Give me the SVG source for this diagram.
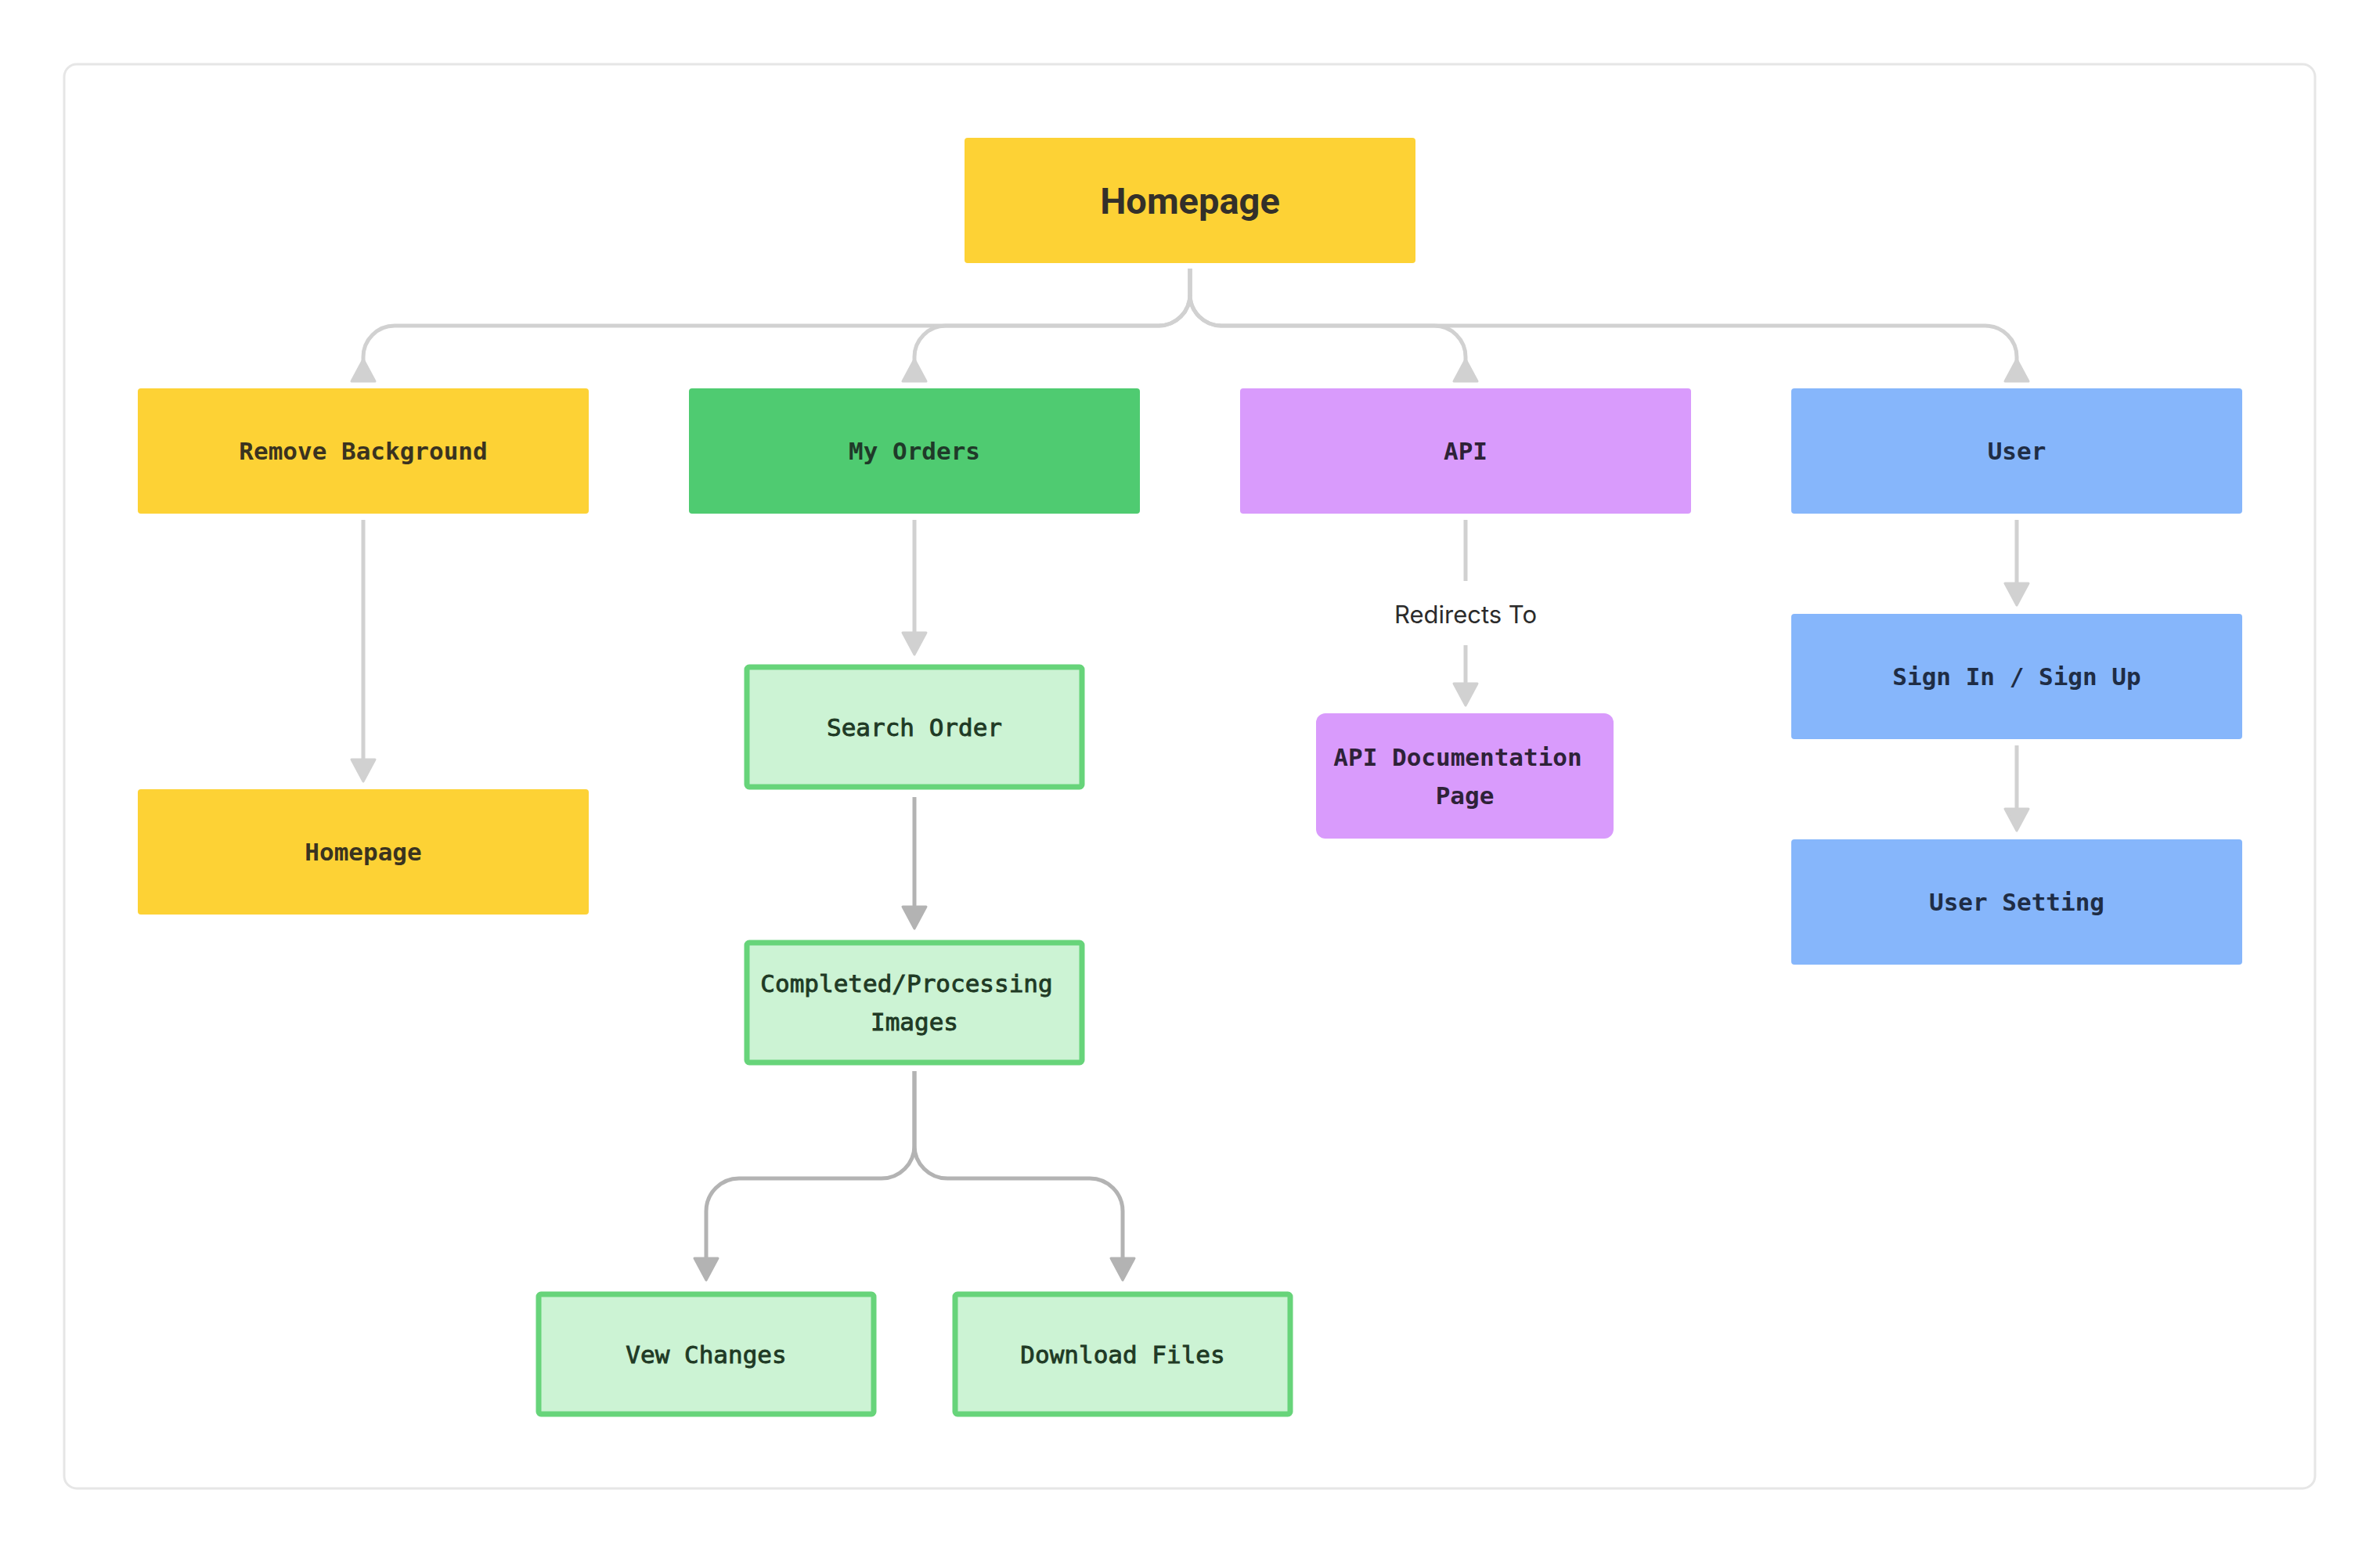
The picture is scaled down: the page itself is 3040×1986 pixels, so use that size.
<svg xmlns="http://www.w3.org/2000/svg" width="3040" height="1986" viewBox="0 0 3040 1986">
<style>
.lbl{font-family:"DejaVu Sans Mono","Liberation Mono",monospace;font-size:31px;font-weight:bold;text-anchor:middle}
.med{font-weight:normal;stroke-width:0.9}
.ttl{font-family:Roboto,"Liberation Sans",sans-serif;font-size:47px;font-weight:bold;text-anchor:middle;fill:#33302a}
.edge{font-family:Inter,"Liberation Sans",sans-serif;font-size:31px;text-anchor:middle;fill:#2b2b2b}
.c1{fill:none;stroke:#d1d1d1;stroke-width:5}
.c2{fill:none;stroke:#b3b3b3;stroke-width:5}
.yel{fill:#fdd235}
.grn{fill:#4fcb71}
.pur{fill:#d99bfc}
.blu{fill:#86b6fb}
.lg{fill:#ccf3d4;stroke:#67d47a;stroke-width:7}
.ty{fill:#3a3320}
.tg{fill:#1f3a29}
.tl{fill:#1f3a25;stroke:#1f3a25}
.tp{fill:#2e2238}
.tb{fill:#1f2d45}
</style>
<defs>
<marker id="aDL" markerUnits="userSpaceOnUse" viewBox="-3 -18 34 36" markerWidth="34" markerHeight="36" refX="0" refY="0" orient="auto">
<path d="M0,-15 L28,0 L0,15 z" fill="#d1d1d1" stroke="#d1d1d1" stroke-width="3" stroke-linejoin="round"/>
</marker>
<marker id="aDD" markerUnits="userSpaceOnUse" viewBox="-3 -18 34 36" markerWidth="34" markerHeight="36" refX="0" refY="0" orient="auto">
<path d="M0,-15 L28,0 L0,15 z" fill="#b3b3b3" stroke="#b3b3b3" stroke-width="3" stroke-linejoin="round"/>
</marker>
<marker id="aUp" markerUnits="userSpaceOnUse" viewBox="-31 -18 34 36" markerWidth="34" markerHeight="36" refX="0" refY="0" orient="auto">
<path d="M0,-15 L-28,0 L0,15 z" fill="#d1d1d1" stroke="#d1d1d1" stroke-width="3" stroke-linejoin="round"/>
</marker>
</defs>
<rect x="0" y="0" width="3040" height="1986" fill="#ffffff"/>
<rect x="82" y="82" width="2875" height="1819" rx="16" fill="#ffffff" stroke="#e6e6e6" stroke-width="3"/>

<g id="connectors">
<path class="c1" d="M1520,343 V376 A40 40 0 0 1 1480,416 H504 A40 40 0 0 0 464,456 V487" marker-end="url(#aUp)"/>
<path class="c1" d="M1520,343 V376 A40 40 0 0 1 1480,416 H1208 A40 40 0 0 0 1168,456 V487" marker-end="url(#aUp)"/>
<path class="c1" d="M1520,343 V376 A40 40 0 0 0 1560,416 H1832 A40 40 0 0 1 1872,456 V487" marker-end="url(#aUp)"/>
<path class="c1" d="M1520,343 V376 A40 40 0 0 0 1560,416 H2536 A40 40 0 0 1 2576,456 V487" marker-end="url(#aUp)"/>
<path class="c1" d="M464,664 V970" marker-end="url(#aDL)"/>
<path class="c1" d="M1168,664 V808" marker-end="url(#aDL)"/>
<path class="c2" d="M1168,1018 V1158" marker-end="url(#aDD)"/>
<path class="c1" d="M1872,664 V742"/>
<text class="edge" x="1872" y="796">Redirects To</text>
<path class="c1" d="M1872,824 V873" marker-end="url(#aDL)"/>
<path class="c1" d="M2576,664 V745" marker-end="url(#aDL)"/>
<path class="c1" d="M2576,952 V1033" marker-end="url(#aDL)"/>
<path class="c2" d="M1168,1368 V1463 A42 42 0 0 1 1126,1505 H944 A42 42 0 0 0 902,1547 V1607" marker-end="url(#aDD)"/>
<path class="c2" d="M1168,1368 V1463 A42 42 0 0 0 1210,1505 H1392 A42 42 0 0 1 1434,1547 V1607" marker-end="url(#aDD)"/>
</g>

<g id="node-homepage-root">
<rect class="yel" x="1232" y="176" width="576" height="160" rx="4"/>
<text class="ttl" x="1520" y="273">Homepage</text>
</g>
<g id="node-remove-background">
<rect class="yel" x="176" y="496" width="576" height="160" rx="4"/>
<text class="lbl ty" x="464" y="587">Remove Background</text>
</g>
<g id="node-my-orders">
<rect class="grn" x="880" y="496" width="576" height="160" rx="4"/>
<text class="lbl tg" x="1168" y="587">My Orders</text>
</g>
<g id="node-api">
<rect class="pur" x="1584" y="496" width="576" height="160" rx="4"/>
<text class="lbl tp" x="1872" y="587">API</text>
</g>
<g id="node-user">
<rect class="blu" x="2288" y="496" width="576" height="160" rx="4"/>
<text class="lbl tb" x="2576" y="587">User</text>
</g>
<g id="node-homepage">
<rect class="yel" x="176" y="1008" width="576" height="160" rx="4"/>
<text class="lbl ty" x="464" y="1099">Homepage</text>
</g>
<g id="node-search-order">
<rect class="lg" x="954" y="852" width="428" height="153" rx="3"/>
<text class="lbl med tl" x="1168" y="940">Search Order</text>
</g>
<g id="node-completed">
<rect class="lg" x="954" y="1204" width="428" height="153" rx="3"/>
<text class="lbl med tl" x="1158" y="1267">Completed/Processing</text>
<text class="lbl med tl" x="1168" y="1316">Images</text>
</g>
<g id="node-vew-changes">
<rect class="lg" x="688" y="1653" width="428" height="153" rx="3"/>
<text class="lbl med tl" x="902" y="1741">Vew Changes</text>
</g>
<g id="node-download-files">
<rect class="lg" x="1220" y="1653" width="428" height="153" rx="3"/>
<text class="lbl med tl" x="1434" y="1741">Download Files</text>
</g>
<g id="node-api-doc">
<rect class="pur" x="1681" y="911" width="380" height="160" rx="12"/>
<text class="lbl tp" x="1862" y="978">API Documentation</text>
<text class="lbl tp" x="1871" y="1027">Page</text>
</g>
<g id="node-sign-in">
<rect class="blu" x="2288" y="784" width="576" height="160" rx="4"/>
<text class="lbl tb" x="2576" y="875">Sign In / Sign Up</text>
</g>
<g id="node-user-setting">
<rect class="blu" x="2288" y="1072" width="576" height="160" rx="4"/>
<text class="lbl tb" x="2576" y="1163">User Setting</text>
</g>
</svg>
